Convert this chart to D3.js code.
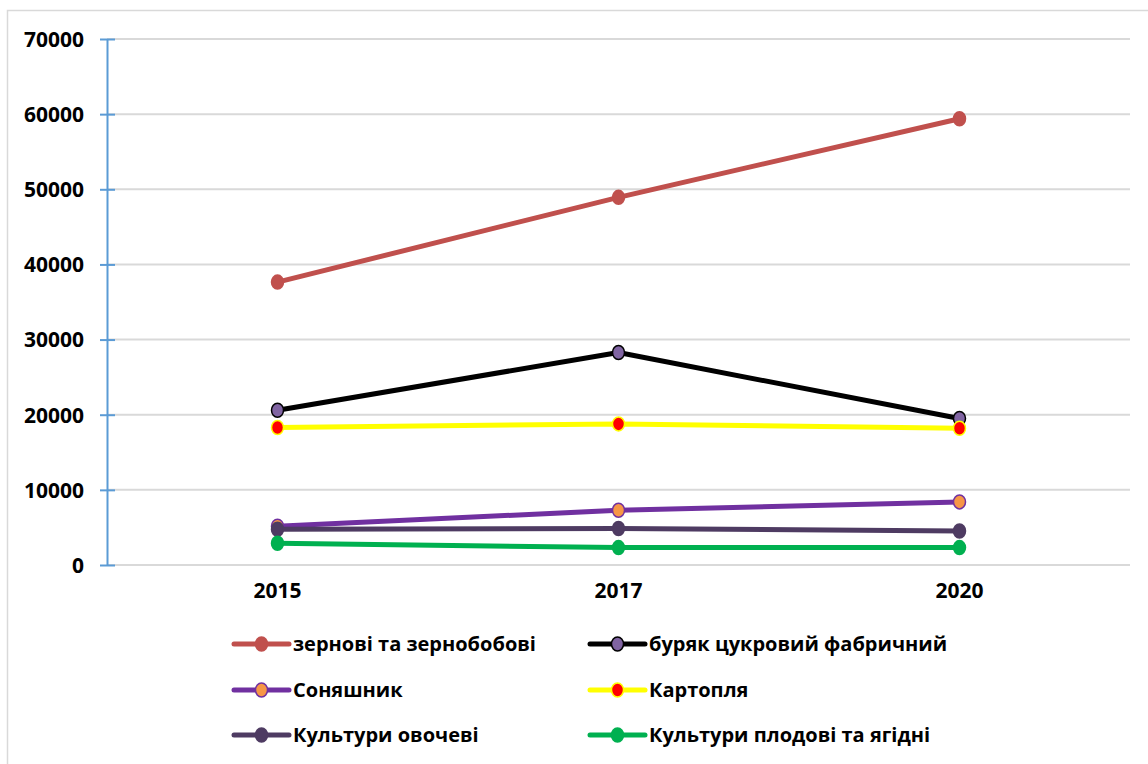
<!DOCTYPE html>
<html>
<head>
<meta charset="utf-8">
<script src="https://cdn.jsdelivr.net/npm/d3@7/dist/d3.min.js"></script>
<style>
  html, body { margin: 0; padding: 0; background: #fff; }
  svg { display: block; font-family: "Open Sans", sans-serif; font-weight: bold; }
</style>
</head>
<body>
<svg id="chart" width="1148" height="764"></svg>
<script>
// Years on the horizontal axis
const years = ["2015", "2017", "2020"];

// Production by crop group, one array per series
const grain      = [37650, 48930, 59390];
const sugarBeet  = [20600, 28280, 19490];
const sunflower  = [5160, 7290, 8400];
const potato     = [18300, 18780, 18200];
const vegetables = [4760, 4850, 4530];
const fruit      = [2890, 2320, 2320];

const seriesNames = [
  "зернові та зернобобові",
  "буряк цукровий фабричний",
  "Соняшник",
  "Картопля",
  "Культури овочеві",
  "Культури плодові та ягідні"
];

const yTicks = [0, 10000, 20000, 30000, 40000, 50000, 60000, 70000];

// Line colour, marker fill, marker outline for each series
const styles = [
  { line: "#C0504D", fill: "#C0504D", stroke: "#C0504D" },
  { line: "#000000", fill: "#8064A2", stroke: "#000000" },
  { line: "#7030A0", fill: "#F79646", stroke: "#7030A0" },
  { line: "#FFFF00", fill: "#FF0000", stroke: "#FFFF00" },
  { line: "#4E3B62", fill: "#4E3B62", stroke: "#4E3B62" },
  { line: "#00B050", fill: "#00B050", stroke: "#00B050" }
];

const seriesValues = [grain, sugarBeet, sunflower, potato, vegetables, fruit];
const series = seriesNames.map((name, i) => ({
  name,
  style: styles[i],
  points: years.map((y, j) => ({ year: y, value: seriesValues[i][j] }))
}));

const svg = d3.select("#chart");

// Chart frame
svg.append("rect")
  .attr("x", 7.5).attr("y", 10.5)
  .attr("width", 1150).attr("height", 770)
  .attr("fill", "#fff")
  .attr("stroke", "#d9d9d9")
  .attr("stroke-width", 1.5);

const plot = { left: 107, right: 1130, top: 39, bottom: 565 };

const x = d3.scaleBand()
  .domain(years)
  .range([plot.left, plot.right])
  .paddingInner(0).paddingOuter(0);

const y = d3.scaleLinear()
  .domain([0, 70000])
  .range([plot.bottom, plot.top]);

const cx = d => x(d) + x.bandwidth() / 2;

// Horizontal gridlines
svg.append("g")
  .selectAll("line")
  .data(yTicks)
  .join("line")
  .attr("x1", plot.left).attr("x2", plot.right)
  .attr("y1", d => y(d)).attr("y2", d => y(d))
  .attr("stroke", "#d9d9d9")
  .attr("stroke-width", 2);

// Vertical axis with crossing tick marks
const yAxis = svg.append("g")
  .attr("transform", `translate(${plot.left},0)`)
  .call(d3.axisLeft(y).tickValues(yTicks).tickSizeInner(7).tickSizeOuter(0).tickFormat(d3.format("d")));
yAxis.select(".domain").attr("stroke", "#5B9BD5").attr("stroke-width", 2);
yAxis.selectAll(".tick line")
  .attr("x1", -7).attr("x2", 8)
  .attr("stroke", "#5B9BD5").attr("stroke-width", 2);
yAxis.selectAll(".tick text")
  .attr("x", -23)
  .attr("dy", "0.35em")
  .attr("fill", "#000")
  .style("font-size", "21px")
  .style("font-family", "Open Sans, sans-serif")
  .style("font-weight", "bold");

// Category labels
const xAxis = svg.append("g")
  .attr("transform", `translate(0,${plot.bottom})`)
  .call(d3.axisBottom(x).tickSize(0).tickPadding(0));
xAxis.select(".domain").remove();
xAxis.selectAll(".tick text")
  .attr("y", 26)
  .attr("dy", "0.35em")
  .attr("fill", "#000")
  .style("font-size", "21px")
  .style("font-family", "Open Sans, sans-serif")
  .style("font-weight", "bold");

// Lines and markers
const line = d3.line()
  .x(d => cx(d.year))
  .y(d => y(d.value));

const groups = svg.append("g")
  .selectAll("g")
  .data(series)
  .join("g");

groups.append("path")
  .attr("d", d => line(d.points))
  .attr("fill", "none")
  .attr("stroke", d => d.style.line)
  .attr("stroke-width", 5)
  .attr("stroke-linejoin", "round");

groups.selectAll("ellipse")
  .data(d => d.points.map(p => ({ ...p, style: d.style })))
  .join("ellipse")
  .attr("cx", d => cx(d.year))
  .attr("cy", d => y(d.value))
  .attr("rx", 6)
  .attr("ry", 7)
  .attr("fill", d => d.style.fill)
  .attr("stroke", d => d.style.stroke)
  .attr("stroke-width", 1.5);

// Legend, two columns by three rows
const legendCols = [234, 590];
const legendRows = [644, 690, 735];

const legend = svg.append("g")
  .selectAll("g")
  .data(series)
  .join("g")
  .attr("transform", (d, i) => `translate(${legendCols[i % 2]},${legendRows[Math.floor(i / 2)]})`);

legend.append("line")
  .attr("x1", 0).attr("x2", 55)
  .attr("stroke", d => d.style.line)
  .attr("stroke-width", 5)
  .attr("stroke-linecap", "round");

legend.append("ellipse")
  .attr("cx", 27.5).attr("cy", 0)
  .attr("rx", 6).attr("ry", 7)
  .attr("fill", d => d.style.fill)
  .attr("stroke", d => d.style.stroke)
  .attr("stroke-width", 1.5);

legend.append("text")
  .attr("x", 59)
  .attr("dy", "0.35em")
  .attr("fill", "#000")
  .style("font-size", "20px")
  .text(d => d.name);
</script>
</body>
</html>
